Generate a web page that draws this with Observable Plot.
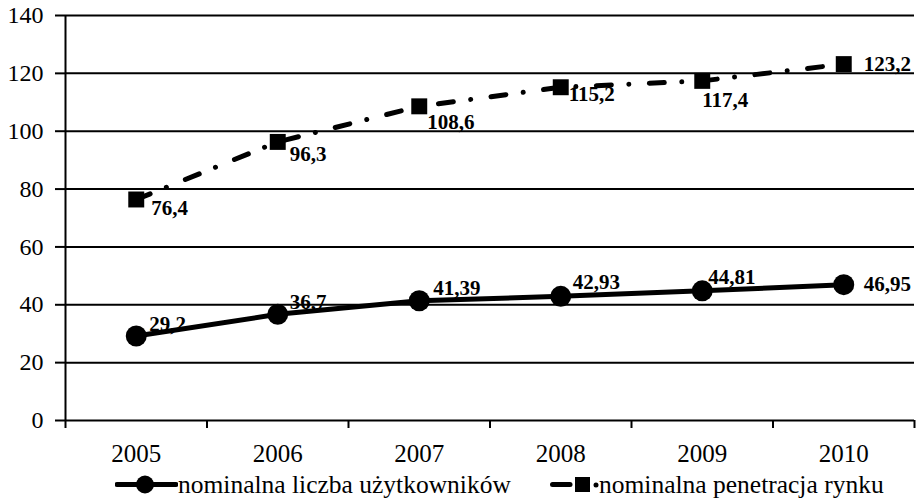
<!DOCTYPE html>
<html>
<head>
<meta charset="utf-8">
<script src="https://cdn.jsdelivr.net/npm/d3@7"></script>
<script src="https://cdn.jsdelivr.net/npm/@observablehq/plot@0.6"></script>
<style>
  html, body { margin: 0; padding: 0; background: #fff; }
  body { width: 916px; height: 499px; overflow: hidden; font-family: "Liberation Serif", "Times New Roman", serif; color: #000; }
  #legend { position: relative; height: 29px; width: 916px; }
  .item { position: absolute; top: 0; height: 29px; display: flex; align-items: center; font-size: 25.5px; line-height: 29px; white-space: nowrap; }
  .item svg { display: block; flex-shrink: 0; }
</style>
</head>
<body>
<div id="chart"></div>
<div id="legend"></div>
<script>
// ---- data ----
const years = [2005, 2006, 2007, 2008, 2009, 2010];
const users = [29.2, 36.7, 41.39, 42.93, 44.81, 46.95];
const penetration = [76.4, 96.3, 108.6, 115.2, 117.4, 123.2];
const yTicks = [0, 20, 40, 60, 80, 100, 120, 140];
const seriesNames = ["nominalna liczba użytkowników", "nominalna penetracja rynku"];

// label nudges (layout only), [dx, dy] in px
const usersLabelNudge = [[13, -12], [12, -12], [14, -12], [12, -14], [6, -14], [20, 0]];
const penetrationLabelNudge = [[15, 9], [12, 12], [8, 16], [8, 7], [0, 19], [20, 0]];

const rows = years.map((year, i) => ({year, users: users[i], penetration: penetration[i]}));
const fmt = v => String(v).replace(".", ",");
const boundaries = [years[0] - 0.5, ...years.map(y => y + 0.5)];

const dashPattern = "15,17.5,0.01,20.5";

const labelMarks = [];
rows.forEach((d, i) => {
  labelMarks.push(Plot.text([d], {
    x: "year", y: "users", text: r => fmt(r.users),
    dx: usersLabelNudge[i][0], dy: usersLabelNudge[i][1],
    textAnchor: "start", lineAnchor: "middle",
    fontWeight: "bold", fontSize: 21, fill: "black"
  }));
  labelMarks.push(Plot.text([d], {
    x: "year", y: "penetration", text: r => fmt(r.penetration),
    dx: penetrationLabelNudge[i][0], dy: penetrationLabelNudge[i][1],
    textAnchor: "start", lineAnchor: "middle",
    fontWeight: "bold", fontSize: 21, fill: "black"
  }));
});

const chart = Plot.plot({
  width: 916,
  height: 470,
  marginLeft: 65,
  marginRight: 2,
  marginTop: 15,
  marginBottom: 50,
  style: {fontFamily: "'Liberation Serif', 'Times New Roman', serif", color: "black", background: "white", overflow: "visible"},
  x: {type: "linear", domain: [boundaries[0], boundaries[boundaries.length - 1]]},
  y: {domain: [0, 140]},
  marks: [
    Plot.gridY(yTicks.filter(v => v > 0), {stroke: "black", strokeOpacity: 1, strokeWidth: 2}),
    Plot.axisY(yTicks, {tickSize: 10, tickPadding: 12, fontSize: 24, strokeWidth: 2, label: null}),
    Plot.axisX(boundaries, {tickSize: 8, tickFormat: () => "", strokeWidth: 2, label: null}),
    Plot.axisX(years, {tickSize: 0, tickPadding: 24, fontSize: 25, tickFormat: d => String(d), label: null}),
    Plot.ruleX([boundaries[0]], {stroke: "black", strokeWidth: 2}),
    Plot.ruleY([0], {stroke: "black", strokeWidth: 2}),
    Plot.line(rows, {x: "year", y: "users", stroke: "black", strokeWidth: 5}),
    Plot.line(rows, {x: "year", y: "penetration", stroke: "black", strokeWidth: 5, strokeDasharray: dashPattern, strokeLinecap: "round"}),
    Plot.dot(rows, {x: "year", y: "users", symbol: "circle", r: 10.5, fill: "black", stroke: "none"}),
    Plot.dot(rows, {x: "year", y: "penetration", symbol: "square", r: 9, fill: "black", stroke: "none"}),
    ...labelMarks
  ]
});
document.getElementById("chart").appendChild(chart);

// legend
const legend = document.getElementById("legend");
legend.innerHTML = `
  <div class="item" style="left:115px">
    <svg width="63" height="29"><line x1="2" y1="14.5" x2="61" y2="14.5" stroke="black" stroke-width="5" stroke-linecap="round"/><circle cx="30" cy="14.5" r="9" fill="black"/></svg>
    <span>${seriesNames[0]}</span>
  </div>
  <div class="item" style="left:550px">
    <svg width="49" height="29"><line x1="2.5" y1="14.5" x2="20" y2="14.5" stroke="black" stroke-width="5" stroke-linecap="round"/><rect x="25" y="7" width="15" height="15" fill="black"/><circle cx="46" cy="15" r="2.5" fill="black"/></svg>
    <span>${seriesNames[1]}</span>
  </div>`;
</script>
</body>
</html>
